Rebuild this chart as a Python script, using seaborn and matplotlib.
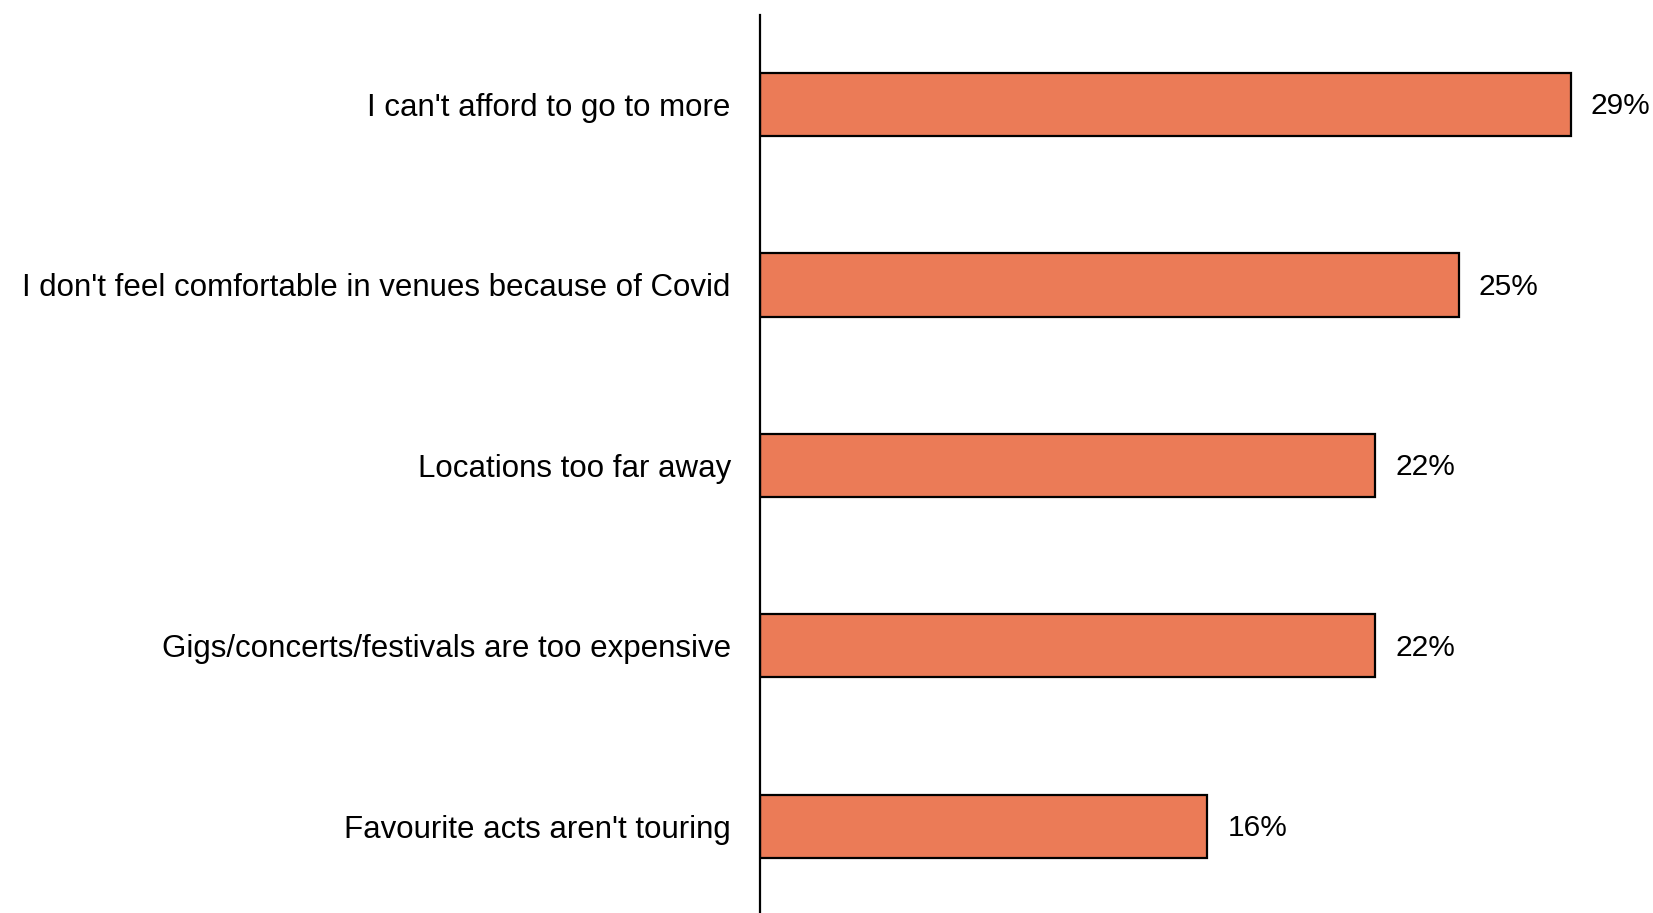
import matplotlib
matplotlib.use("Agg")
import matplotlib.pyplot as plt
import seaborn as sns
import pandas as pd

reasons = [
    "I can't afford to go to more",
    "I don't feel comfortable in venues because of Covid",
    "Locations too far away",
    "Gigs/concerts/festivals are too expensive",
    "Favourite acts aren't touring",
]
shares = [29, 25, 22, 22, 16]

df = pd.DataFrame({"reason": reasons, "share": shares})

sns.set_theme(style="white")
plt.rcParams["font.family"] = ["Liberation Sans", "DejaVu Sans"]

fig = plt.figure(figsize=(16.53, 9.13), dpi=100)
ax = fig.add_axes([760 / 1653, 0.0, 1 - 760 / 1653, 1 - 15 / 913])

sns.barplot(data=df, x="share", y="reason", orient="h", color="#EB7B57",
            saturation=1, width=0.35, edgecolor="black", linewidth=1.6, ax=ax)

for i, v in enumerate(shares):
    ax.text(v + 0.72, i + 0.01, f"{v}%", va="center", ha="left",
            fontsize=21.5, color="black")

ax.set_xlim(0, 31.95)
ax.set_ylim(4.48, -0.496)
ax.set_xlabel("")
ax.set_ylabel("")
ax.set_xticks([])
ax.tick_params(axis="y", length=0, pad=21, labelsize=22.5, labelcolor="black")
for side in ["top", "right", "bottom"]:
    ax.spines[side].set_visible(False)
ax.spines["left"].set_color("black")
ax.spines["left"].set_linewidth(1.6)

fig.savefig("out.png", dpi=100)
